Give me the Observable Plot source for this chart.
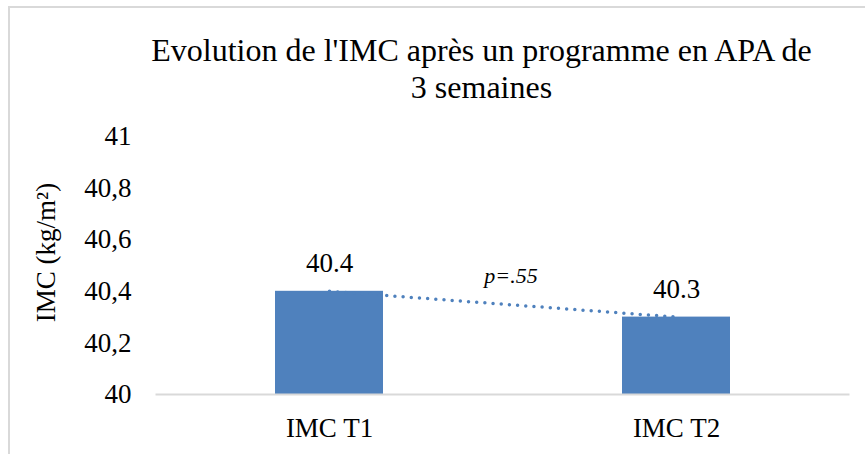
<!DOCTYPE html>
<html>
<head>
<meta charset="utf-8">
<script src="https://cdn.jsdelivr.net/npm/d3@7"></script>
<script src="https://cdn.jsdelivr.net/npm/@observablehq/plot@0.6"></script>
<style>
  html, body { margin: 0; padding: 0; background: #fff; overflow: hidden; }
  body { width: 865px; height: 454px; position: relative; font-family: "Liberation Serif", Tinos, "Times New Roman", Times, "DejaVu Serif", serif; }
  #frame { position: absolute; left: 7.5px; top: 5.5px; width: 1000px; height: 1000px; border: 2px solid #d9d9d9; box-sizing: border-box; }
  #title { position: absolute; left: 81.5px; top: 32px; width: 800px; text-align: center; font-size: 32px; line-height: 37px; color: #000; }
  #chart { position: absolute; left: 0; top: 110px; }
  #chart svg, #chart svg text { font-family: "Liberation Serif", Tinos, "Times New Roman", Times, "DejaVu Serif", serif !important; }
</style>
</head>
<body>
<div id="frame"></div>
<div id="title">Evolution de l'IMC après un programme en APA de<br>3 semaines</div>
<div id="chart"></div>
<script>
const categories = ["IMC T1", "IMC T2"];
const values = [40.4, 40.3];
const valueLabels = ["40.4", "40.3"];
const yTicks = [40, 40.2, 40.4, 40.6, 40.8, 41];
const yTickLabels = ["40", "40,2", "40,4", "40,6", "40,8", "41"];
const yLabel = "IMC (kg/m²)";
const pLabel = "p=.55";

const data = categories.map((c, i) => ({cat: c, v: values[i], lab: valueLabels[i]}));
const fontFamily = "'Liberation Serif', Tinos, 'Times New Roman', Times, 'DejaVu Serif', serif";

const chart = Plot.plot({
  width: 865,
  height: 344,
  marginLeft: 155.5,
  marginRight: 15.5,
  marginTop: 26,
  marginBottom: 60,
  style: {fontFamily, fontSize: "27px", color: "#000", background: "transparent", overflow: "visible"},
  x: {domain: categories, paddingInner: 0.689, paddingOuter: 0.3445, label: null},
  y: {domain: [40, 41], label: null},
  marks: [
    Plot.barY(data, {x: "cat", y1: 40, y2: "v", fill: "#4F81BD"}),
    Plot.ruleY([40], {stroke: "#d9d9d9", strokeWidth: 2}),
    Plot.line(data, {x: "cat", y: "v", stroke: "#4F81BD", strokeWidth: 3.5, strokeDasharray: "0 8.2", strokeLinecap: "round"}),
    Plot.text(data, {x: "cat", y: "v", text: "lab", dy: -27.5, fontSize: 27, fill: "#000"}),
    Plot.axisY(yTicks, {tickSize: 0, tickPadding: 24.5, tickFormat: (d) => yTickLabels[yTicks.indexOf(d)], fontSize: 27, fill: "#000", label: null}),
    Plot.axisX(categories, {tickSize: 0, tickPadding: 23, fontSize: 27, fill: "#000", label: null}),
    Plot.text([yLabel], {frameAnchor: "left", textAnchor: "middle", dx: -110, dy: -13, rotate: -90, fontSize: 27, fill: "#000"}),
    Plot.text([pLabel], {frameAnchor: "top", dx: 8, dy: 130.4, lineAnchor: "top", fontSize: 22, fontStyle: "italic", fill: "#000"})
  ]
});
document.getElementById("chart").appendChild(chart);
</script>
</body>
</html>
